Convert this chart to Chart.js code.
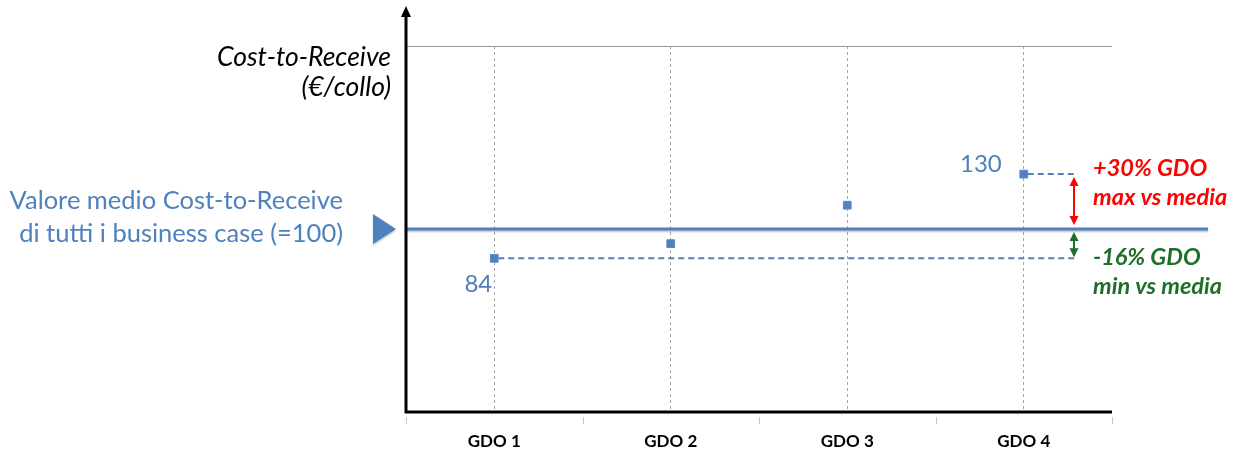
<!DOCTYPE html>
<html>
<head>
<meta charset="utf-8">
<script src="https://cdn.jsdelivr.net/npm/chart.js@4"></script>
<style>
  html, body { margin: 0; padding: 0; background: #ffffff; }
  #wrap { width: 1247px; height: 453px; }
</style>
</head>
<body>
<div id="wrap"><canvas id="chart" width="1247" height="453"></canvas></div>
<script>
// Categories and Cost-to-Receive values per retailer (average of all business cases = 100)
const categories = ['GDO 1', 'GDO 2', 'GDO 3', 'GDO 4'];
const costToReceive = [84, 92, 113, 130];
const mediaValue = 100;
const yRange = [0, 200];
const yAxisTitle = ['Cost-to-Receive', '(€/collo)'];
const mediaLabel = ['Valore medio Cost-to-Receive', 'di tutti i business case (=100)'];
const maxLabel = 'max vs media';
const minLabel = 'min vs media';

const BLUE = '#4f81bd';
const RED = '#ff0000';
const GREEN = '#1f6f2a';
const FONT = 'Lato, "Open Sans", sans-serif';

function arrowHead(ctx, x, y, dir, len, half) {
  ctx.beginPath();
  ctx.moveTo(x, y);
  ctx.lineTo(x - half, y - dir * len);
  ctx.lineTo(x + half, y - dir * len);
  ctx.closePath();
  ctx.fill();
}

function doubleArrow(ctx, x, y1, y2, color) {
  ctx.save();
  ctx.strokeStyle = color;
  ctx.fillStyle = color;
  ctx.lineWidth = 2;
  ctx.beginPath();
  ctx.moveTo(x, y1 + 8);
  ctx.lineTo(x, y2 - 8);
  ctx.stroke();
  arrowHead(ctx, x, y1, -1, 9, 4.5);
  arrowHead(ctx, x, y2, 1, 9, 4.5);
  ctx.restore();
}

const decorations = {
  id: 'decorations',
  beforeDatasetsDraw(chart) {
    const { ctx, chartArea: ca, scales: { x, y } } = chart;
    const meanY = y.getPixelForValue(mediaValue);

    // mean line with soft shadow
    ctx.save();
    ctx.shadowColor = 'rgba(0,0,0,0.25)';
    ctx.shadowBlur = 2;
    ctx.shadowOffsetY = 1.5;
    ctx.strokeStyle = BLUE;
    ctx.lineWidth = 3;
    ctx.beginPath();
    ctx.moveTo(ca.left, meanY);
    ctx.lineTo(ca.right + 96, meanY);
    ctx.stroke();

    // pointer triangle to the left of the axis
    ctx.fillStyle = BLUE;
    ctx.beginPath();
    ctx.moveTo(ca.left - 33, meanY - 15);
    ctx.lineTo(ca.left - 10, meanY);
    ctx.lineTo(ca.left - 33, meanY + 15);
    ctx.closePath();
    ctx.fill();
    ctx.restore();

    // category boundary ticks below the x axis
    ctx.save();
    ctx.strokeStyle = '#c8c8c8';
    ctx.lineWidth = 1;
    for (let i = 0; i <= categories.length; i++) {
      const px = Math.round(x.getPixelForValue(i - 0.5)) + 0.5;
      ctx.beginPath();
      ctx.moveTo(px, ca.bottom + 5);
      ctx.lineTo(px, ca.bottom + 12);
      ctx.stroke();
    }
    ctx.restore();

    // axes: x baseline and y axis with arrow
    ctx.save();
    ctx.strokeStyle = '#000';
    ctx.fillStyle = '#000';
    ctx.lineWidth = 3;
    ctx.beginPath();
    ctx.moveTo(ca.right, ca.bottom);
    ctx.lineTo(ca.left, ca.bottom);
    ctx.lineTo(ca.left, 15);
    ctx.stroke();
    ctx.beginPath();
    ctx.moveTo(ca.left, 6);
    ctx.lineTo(ca.left - 5, 17);
    ctx.lineTo(ca.left + 5, 17);
    ctx.closePath();
    ctx.fill();
    ctx.restore();
  },
  afterDatasetsDraw(chart) {
    const { ctx, chartArea: ca, scales: { x, y } } = chart;
    const meanY = y.getPixelForValue(mediaValue);
    const maxVal = Math.max(...costToReceive);
    const minVal = Math.min(...costToReceive);
    const iMax = costToReceive.indexOf(maxVal);
    const iMin = costToReceive.indexOf(minVal);
    const maxX = x.getPixelForValue(iMax), maxY = y.getPixelForValue(maxVal);
    const minX = x.getPixelForValue(iMin), minY = y.getPixelForValue(minVal);
    const arrowX = ca.right - 38;

    // dashed connectors from extreme points
    ctx.save();
    ctx.strokeStyle = BLUE;
    ctx.lineWidth = 2;
    ctx.setLineDash([6, 4]);
    ctx.beginPath();
    ctx.moveTo(maxX + 4, maxY);
    ctx.lineTo(arrowX, maxY);
    ctx.moveTo(minX + 4, minY);
    ctx.lineTo(arrowX, minY);
    ctx.stroke();
    ctx.restore();

    doubleArrow(ctx, arrowX, maxY + 3, meanY - 4, RED);
    doubleArrow(ctx, arrowX, meanY + 3, minY - 1, GREEN);

    ctx.save();
    // value labels
    ctx.fillStyle = BLUE;
    ctx.font = '24px ' + FONT;
    ctx.textAlign = 'right';
    ctx.textBaseline = 'alphabetic';
    ctx.fillText(String(maxVal), maxX - 22, maxY - 2);
    ctx.fillText(String(minVal), minX - 2, minY + 34);

    // mean label
    ctx.font = '25.5px ' + FONT;
    ctx.fillText(mediaLabel[0], ca.left - 63, meanY - 20);
    ctx.fillText(mediaLabel[1], ca.left - 63, meanY + 13);

    // y axis title
    ctx.fillStyle = '#000';
    ctx.font = 'italic 26.5px ' + FONT;
    ctx.fillText(yAxisTitle[0], ca.left - 15, 66);
    ctx.fillText(yAxisTitle[1], ca.left - 15, 96);

    // delta annotations
    const pMax = Math.round((maxVal - mediaValue) / mediaValue * 100);
    const pMin = Math.round((minVal - mediaValue) / mediaValue * 100);
    ctx.textAlign = 'left';
    ctx.font = 'italic bold 23.5px ' + FONT;
    ctx.fillStyle = RED;
    ctx.fillText((pMax >= 0 ? '+' : '') + pMax + '% GDO', arrowX + 19, maxY + 2);
    ctx.fillText(maxLabel, arrowX + 19, meanY - 24);
    ctx.fillStyle = GREEN;
    ctx.fillText((pMin >= 0 ? '+' : '') + pMin + '% GDO', arrowX + 19, minY + 7);
    ctx.fillText(minLabel, arrowX + 19, minY + 36);
    ctx.restore();
  }
};

new Chart(document.getElementById('chart'), {
  type: 'line',
  data: {
    labels: categories,
    datasets: [{
      label: 'Cost-to-Receive',
      data: costToReceive,
      showLine: false,
      pointStyle: 'rect',
      pointRadius: 5.5,
      pointBorderWidth: 1,
      pointBackgroundColor: BLUE,
      pointBorderColor: '#5b8bc5'
    }]
  },
  options: {
    responsive: false,
    animation: false,
    events: [],
    layout: { padding: { left: 406, right: 135, top: 46, bottom: 0 } },
    plugins: { legend: { display: false }, tooltip: { enabled: false } },
    scales: {
      x: {
        offset: true,
        grid: { offset: false, color: '#a6a6a6', lineWidth: 1, drawTicks: false },
        border: { display: false, dash: [3, 3] },
        ticks: { color: '#000', font: { family: FONT, size: 17, weight: 'bold' }, padding: 19 },
        afterFit(scale) { scale.height = 41; }
      },
      y: {
        min: yRange[0],
        max: yRange[1],
        ticks: { display: false, stepSize: 200 },
        grid: {
          drawTicks: false,
          lineWidth: 1,
          color: (c) => (c.tick && c.tick.value === yRange[1]) ? '#999999' : 'rgba(0,0,0,0)'
        },
        border: { display: false },
        afterFit(scale) { scale.width = 0; }
      }
    }
  },
  plugins: [decorations]
});
</script>
</body>
</html>
